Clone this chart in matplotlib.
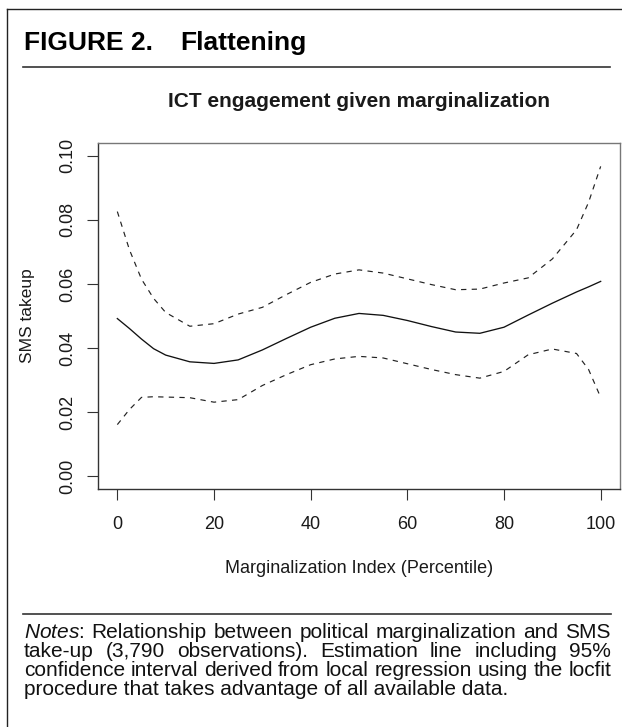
import matplotlib
matplotlib.use('Agg')
import matplotlib.pyplot as plt
from matplotlib.lines import Line2D

plt.rcParams['font.family'] = 'Liberation Sans'
plt.rcParams['mathtext.fontset'] = 'custom'
plt.rcParams['mathtext.it'] = 'Liberation Sans:italic'
plt.rcParams['mathtext.rm'] = 'Liberation Sans'

# values (locfit estimate and 95% band)
percentile = [0, 2.5, 5, 7.5, 10, 15, 20, 25, 30, 35, 40, 45, 50,
              55, 60, 65, 70, 75, 80, 85, 90, 95, 97.5, 100]
fit = [0.0492, 0.0461, 0.0428, 0.0398, 0.0378, 0.0357, 0.0352, 0.0363, 0.0394, 0.0430, 0.0465, 0.0493,
       0.0508, 0.0502, 0.0486, 0.0467, 0.0450, 0.0446, 0.0465, 0.0503, 0.0540, 0.0575, 0.0591, 0.0608]
upper = [0.0826, 0.0707, 0.0615, 0.0555, 0.0511, 0.0468, 0.0476, 0.0506, 0.0527, 0.0567, 0.0605, 0.0631,
         0.0644, 0.0634, 0.0616, 0.0598, 0.0582, 0.0584, 0.0603, 0.0619, 0.0678, 0.0769, 0.0855, 0.0967]
lower = [0.0161, 0.0208, 0.0246, 0.0248, 0.0247, 0.0245, 0.0231, 0.0239, 0.0283, 0.0317, 0.0348, 0.0366,
         0.0374, 0.0369, 0.0351, 0.0333, 0.0317, 0.0306, 0.0327, 0.0379, 0.0397, 0.0383, 0.0333, 0.0246]

x_ticks = [0, 20, 40, 60, 80, 100]
y_ticks = [0.00, 0.02, 0.04, 0.06, 0.08, 0.10]

header_num = "FIGURE 2."
header_name = "Flattening"
subtitle = "ICT engagement given marginalization"
notes_lines = [
    ["$\\mathit{Notes}$:", "Relationship", "between", "political", "marginalization", "and", "SMS"],
    ["take-up", "(3,790", "observations).", "Estimation", "line", "including", "95%"],
    ["confidence", "interval", "derived", "from", "local", "regression", "using", "the", "locfit"],
]
notes_last = "procedure that takes advantage of all available data."

W, H = 622, 727
fig = plt.figure(figsize=(W / 100, H / 100), dpi=100)


def fx(px):
    return px / W


def fy(py):
    return 1 - py / H


# outer frame (only left and top edges are in view)
fig.add_artist(Line2D([fx(7), fx(7)], [0, fy(9)], color='#222222', lw=1.0))
fig.add_artist(Line2D([fx(7), 1], [fy(9), fy(9)], color='#222222', lw=1.0))

# header
fig.text(fx(24), fy(50), header_num, fontsize=19, weight='bold', va='baseline')
fig.text(fx(180), fy(50), header_name, fontsize=19, weight='bold', va='baseline')
fig.add_artist(Line2D([fx(23), fx(610)], [fy(67), fy(67)], color='#333333', lw=1.2))
fig.text(fx(359), fy(106.7), subtitle, fontsize=15, weight='bold', ha='center', va='baseline',
         color='#1a1a1a')

# plot
ax = fig.add_axes([fx(98), fy(489), (620 - 98) / W, (489 - 143) / H])
ax.plot(percentile, fit, color='#111111', lw=0.95)
ax.plot(percentile, upper, color='#222222', lw=0.85, ls=(0, (4.5, 4.5)))
ax.plot(percentile, lower, color='#222222', lw=0.85, ls=(0, (4.5, 4.5)))
ax.set_xlim(-4, 104)
ax.set_ylim(-0.004, 0.104)
ax.set_xticks(x_ticks)
ax.set_xticklabels([str(v) for v in x_ticks])
ax.set_yticks(y_ticks)
ax.set_yticklabels(['%.2f' % v for v in y_ticks])
plt.setp(ax.get_yticklabels(), rotation=90, va='center')
ax.tick_params(axis='both', length=7.9, width=0.8, color='#333333', labelsize=13, labelcolor='#1a1a1a')
ax.tick_params(axis='x', pad=11.5)
ax.tick_params(axis='y', pad=8)
for side in ['top', 'right']:
    ax.spines[side].set_color('#777777')
for side in ['left', 'bottom']:
    ax.spines[side].set_color('#333333')
for sp in ax.spines.values():
    sp.set_linewidth(1.0)
ax.set_xlabel("Marginalization Index (Percentile)", fontsize=13, color='#1a1a1a')
ax.xaxis.set_label_coords(0.5, (489 - 560) / 346)
ax.set_ylabel("SMS takeup", fontsize=12.5, color='#1a1a1a')
ax.yaxis.set_label_coords((35 - 98) / 522, 0.5)

# notes, justified like the journal's caption
fig.add_artist(Line2D([fx(23), fx(611)], [fy(614), fy(614)], color='#333333', lw=1.2))
renderer = fig.canvas.get_renderer()
note_size = 15
base = [638.3, 657.1, 675.9]
for words, py in zip(notes_lines, base):
    texts = [fig.text(0, fy(py), w, fontsize=note_size, va='baseline', color='#111111') for w in words]
    widths = [t.get_window_extent(renderer).width for t in texts]
    gap = (611 - 24 - sum(widths)) / (len(words) - 1)
    x = 24
    for t, w in zip(texts, widths):
        t.set_x(fx(x))
        x += w + gap
fig.text(fx(24), fy(694.7), notes_last, fontsize=note_size, va='baseline', color='#111111')

fig.savefig('out.png', dpi=100)
